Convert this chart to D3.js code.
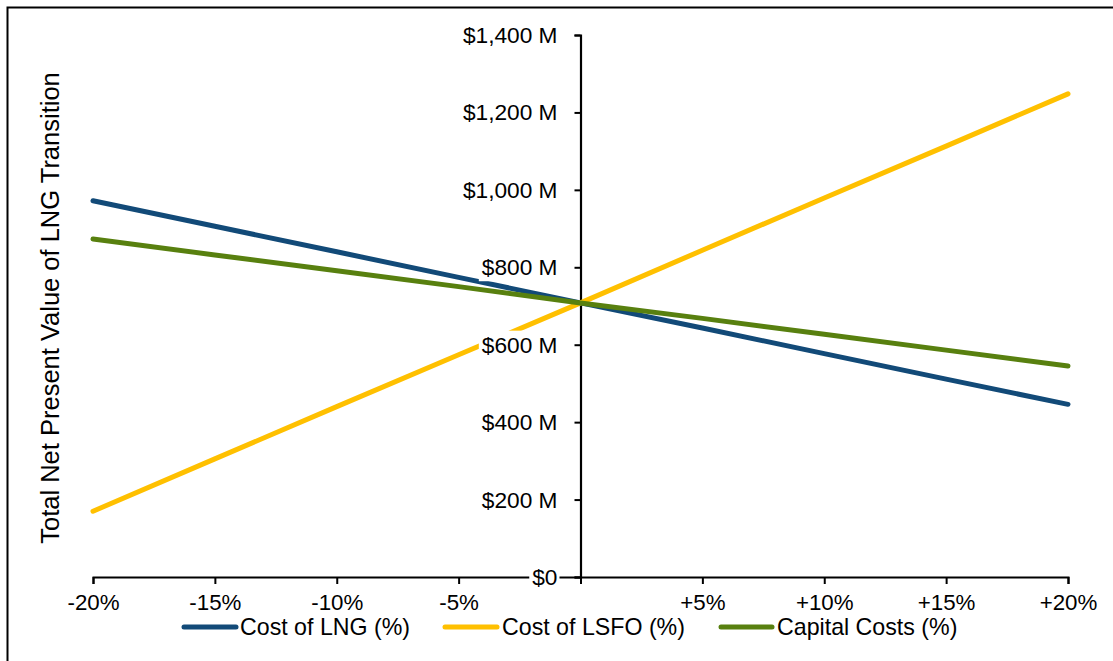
<!DOCTYPE html>
<html>
<head>
<meta charset="utf-8">
<script src="https://cdn.jsdelivr.net/npm/d3@7"></script>
<style>
  html, body { margin: 0; padding: 0; background: #fff; }
  svg { display: block; }
  text { font-family: "Liberation Sans", Arial, sans-serif; fill: #000; }
</style>
</head>
<body>
<svg id="chart" width="1113" height="661"></svg>
<script>
// ---- Data ----
const changes = [-20, -15, -10, -5, 0, 5, 10, 15, 20];
const costLNG = [972, 906, 840, 774, 708, 643, 577, 511, 446];
const costLSFO = [170, 305, 440, 574, 708, 844, 979, 1113, 1248];
const capitalCosts = [873, 832, 791, 750, 708, 668, 627, 586, 545];
const seriesNames = ["Cost of LNG (%)", "Cost of LSFO (%)", "Capital Costs (%)"];
const seriesColors = ["#124a78", "#ffc000", "#58800f"];
const yTicks = [0, 200, 400, 600, 800, 1000, 1200, 1400];
const xTicks = [-20, -15, -10, -5, 0, 5, 10, 15, 20];
const yTitle = "Total Net Present Value of LNG Transition";

const seriesData = [costLNG, costLSFO, capitalCosts];

const svg = d3.select("#chart");
const x = d3.scaleLinear().domain([-20, 20]).range([93, 1068]);
const y = d3.scaleLinear().domain([0, 1400]).range([577, 35]);

// border (top & left visible)
svg.append("path").attr("d", "M7.5,661 V7.5 H1113")
  .attr("fill", "none").attr("stroke", "#000").attr("stroke-width", 2);

// X axis
const xAxis = d3.axisBottom(x).tickValues(xTicks).tickSize(7).tickPadding(10)
  .tickFormat(d => d === 0 ? "" : (d > 0 ? "+" : "") + d + "%");
const gx = svg.append("g").attr("transform", `translate(0,${y(0)})`).call(xAxis);
gx.attr("font-size", null).attr("font-family", null);
gx.select(".domain").attr("stroke", "#000").attr("stroke-width", 2);
gx.selectAll(".tick line").attr("stroke", "#000").attr("stroke-width", 2);
gx.selectAll(".tick text").style("font-size", "22.3px").attr("fill", "#000");

// Y axis (at x = 0)
const yAxis = d3.axisLeft(y).tickValues(yTicks).tickSize(6).tickPadding(17)
  .tickFormat(d => d === 0 ? "$0" : "$" + d3.format(",")(d) + " M");
const gy = svg.append("g").attr("transform", `translate(${x(0)},0)`).call(yAxis);
gy.select(".domain").attr("stroke", "#000").attr("stroke-width", 2.2);
gy.selectAll(".tick line").attr("stroke", "#000").attr("stroke-width", 2);
gy.selectAll(".tick text").remove();

// Series lines
const line = d3.line().x((d, i) => x(changes[i])).y(d => y(d));
seriesData.forEach((vals, k) => {
  svg.append("path").datum(vals)
    .attr("d", line)
    .attr("fill", "none")
    .attr("stroke", seriesColors[k])
    .attr("stroke-width", 5)
    .attr("stroke-linecap", "round")
    .attr("stroke-linejoin", "round");
});

// Y tick labels with white backgrounds (drawn on top)
const yl = svg.append("g");
yTicks.forEach(t => {
  const g = yl.append("g");
  const txt = g.append("text")
    .attr("x", x(0) - 23).attr("y", y(t)).attr("dy", "0.35em")
    .attr("text-anchor", "end").style("font-size", "22.7px")
    .text(t === 0 ? "$0" : "$" + d3.format(",")(t) + " M");
  const bb = txt.node().getBBox();
  g.insert("rect", "text")
    .attr("x", bb.x - 3).attr("y", bb.y - 1)
    .attr("width", bb.width + 5).attr("height", bb.height + 2)
    .attr("fill", "#fff");
});

// Y axis title
svg.append("text")
  .attr("transform", `translate(59,308) rotate(-90)`)
  .attr("text-anchor", "middle")
  .style("font-size", "25.5px")
  .text(yTitle);

// Legend
const legendItems = [
  { x1: 184, x2: 236, tx: 240 },
  { x1: 445, x2: 497, tx: 502 },
  { x1: 721, x2: 772, tx: 777 }
];
const lg = svg.append("g");
legendItems.forEach((it, k) => {
  lg.append("line").attr("x1", it.x1).attr("x2", it.x2).attr("y1", 627).attr("y2", 627)
    .attr("stroke", seriesColors[k]).attr("stroke-width", 5).attr("stroke-linecap", "round");
  lg.append("text").attr("x", it.tx).attr("y", 627).attr("dy", "0.35em")
    .style("font-size", "23.2px").text(seriesNames[k]);
});
</script>
</body>
</html>
